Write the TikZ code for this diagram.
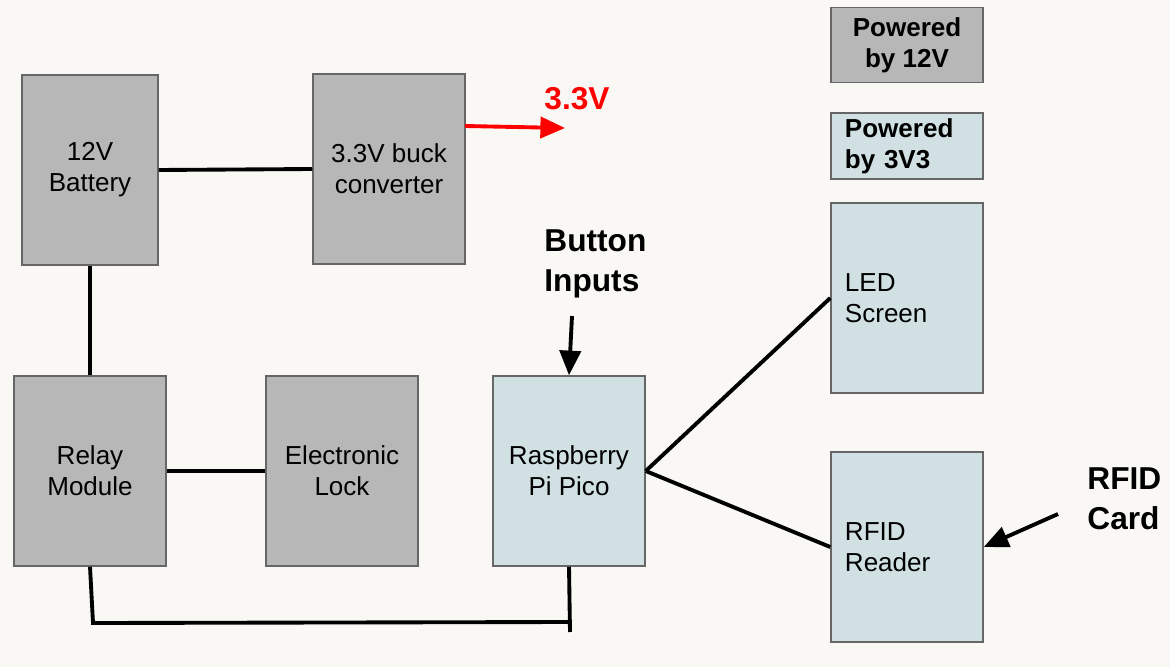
\documentclass[tikz,border=0pt]{standalone}
\usepackage{fontspec}
\setmainfont{Liberation Sans}
\usetikzlibrary{arrows.meta}
\definecolor{bgcol}{HTML}{F9F8F4}
\definecolor{grey12}{HTML}{B7B7B7}
\definecolor{blue33}{HTML}{D0E0E3}
\tikzset{
	blk/.style={draw=black!60,minimum width=1.52cm,minimum height=1.90cm,inner sep=0pt,
		align=center,font=\fontsize{7.4}{8.8}\selectfont},
	pw12/.style={blk,fill=grey12},
	pw33/.style={blk,fill=blue33},
	wire/.style={line width=1.1pt},
	lbl/.style={font=\fontsize{9}{11.5}\selectfont\bfseries,align=left}
}
\begin{document}
\begin{tikzpicture}[x=0.01cm,y=-0.01cm]
	\fill[bgcol] (0,0) rectangle (1170,667);
	\useasboundingbox (0,0) rectangle (1170,667);
	% power side
	\node[pw12,minimum width=1.36cm] (bat) at (90,170) {12V\\Battery};
	\node[pw12] (buck) at (389,169) {3.3V buck\\converter};
	\node[pw12] (relay) at (90,471) {Relay\\Module};
	\node[pw12] (lock) at (342,471) {Electronic\\Lock};
	% logic side
	\node[pw33] (pico) at (569,471) {Raspberry\\Pi Pico};
	\node[pw33,align=left,text width=1.24cm] (led) at (907,298) {LED\\Screen};
	\node[pw33,align=left,text width=1.24cm] (rfid) at (907,547) {RFID\\Reader};
	% legend
	\node[pw12,minimum height=0.75cm,font=\fontsize{7.4}{8.8}\selectfont\bfseries] (leg12) at (907,45) {Powered\\by 12V};
	\node[pw33,minimum height=0.66cm,align=left,text width=1.24cm,font=\fontsize{7.4}{8.8}\selectfont\bfseries] (leg33) at (907,146) {Powered\\by 3V3};
	% free labels
	\node[lbl,text=red,anchor=west] (v33) at (532,99) {3.3V};
	\node[lbl,anchor=west] (btn) at (532,264) {Button\\Inputs};
	\node[lbl,anchor=west] (card) at (1075,499) {RFID\\Card};
	\coordinate (v33s) at (465,126);
	\coordinate (v33e) at (565,128);
	\coordinate (btns) at (572,316);
	\coordinate (cards) at (1058,514);
	\coordinate (gl) at (93,623);
	\coordinate (gr) at (570,622);
	\coordinate (gb) at (570,632);
	% wires
	\draw[wire] (bat.east) -- (buck.west);
	\draw[wire] (bat.south) -- (relay.north);
	\draw[wire] (relay.east) -- (lock.west);
	\draw[wire] (relay.south) -- (gl) -- (gr);
	\draw[wire] (pico.south) -- (gb);
	\draw[wire] (pico.east) -- (led.west);
	\draw[wire] (pico.east) -- (rfid.west);
	\draw[wire,red,-{Triangle[length=7pt,width=6pt]}] (v33s) -- (v33e);
	\draw[wire,-{Triangle[length=7pt,width=6pt]}] (btns) -- (pico.north);
	\draw[wire,-{Triangle[length=7pt,width=6pt]}] (cards) -- (rfid.east);
\end{tikzpicture}
\end{document}
